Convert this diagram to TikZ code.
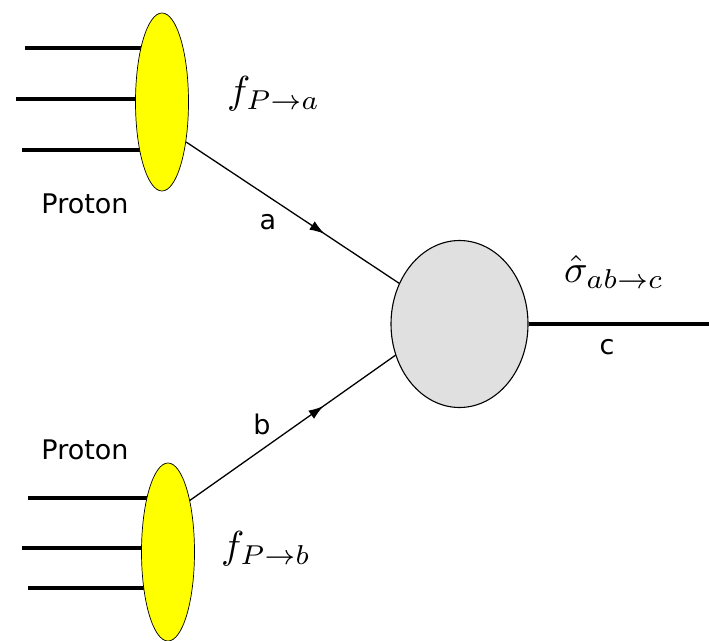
\documentclass[tikz,border=0pt]{standalone}
\usepackage{fontspec}
\setsansfont{DejaVu Sans}
\usetikzlibrary{shapes.geometric,decorations.markings,arrows.meta,backgrounds}
\definecolor{pyellow}{RGB}{255,255,0}
\definecolor{blobgray}{RGB}{224,224,224}
\newcommand{\bigmath}[1]{\scalebox{3.9}{$#1$}}
\begin{document}
\begin{tikzpicture}[x=1pt,y=-1pt,
  proton/.style={ellipse,draw=black,fill=pyellow,line width=0.7pt,minimum width=53pt,minimum height=178pt,inner sep=0pt},
  hardblob/.style={ellipse,draw=black,fill=blobgray,line width=1.1pt,minimum width=137pt,minimum height=167pt,inner sep=0pt},
  quark/.style={line width=3.2pt},
  parton/.style={line width=1.3pt,postaction={decorate},decoration={markings,mark=at position 0.65 with {\arrow{Latex[length=15pt,width=10pt]}}}},
  lbl/.style={font=\sffamily\fontsize{27}{30}\selectfont,inner sep=0pt},
  mlbl/.style={inner sep=0pt}
]
\useasboundingbox (0,0) rectangle (709,640);
\node[proton] (pa) at (162,102) {};
\node[proton] (pb) at (168,552) {};
\node[hardblob] (hard) at (459.5,324) {};
\coordinate (a1) at (25,48);
\coordinate (a2) at (16,99);
\coordinate (a3) at (22,150);
\coordinate (b1) at (28,498);
\coordinate (b2) at (22,548);
\coordinate (b3) at (28,588);
\coordinate (cend) at (709,324);
\begin{pgfonlayer}{background}
\foreach \p in {a1,a2,a3}{\draw[quark] (\p) -- (\p -| pa.center);}
\foreach \p in {b1,b2,b3}{\draw[quark] (\p) -- (\p -| pb.center);}
\end{pgfonlayer}
\draw[parton] (pa.-59) -- (hard.146.6);
\draw[parton] (pb.67) -- (hard.-154);
\draw[quark] (hard.east) -- (cend);
\node[lbl] (lpa) at (85,204) {Proton};
\node[lbl] (lpb) at (85,450) {Proton};
\node[lbl] (la) at (268,222) {a};
\node[lbl] (lb) at (262,424) {b};
\node[lbl] (lc) at (607,347) {c};
\node[mlbl,anchor=west] (fa) at (227,94) {\bigmath{f_{P\to a}}};
\node[mlbl,anchor=west] (fb) at (221,549) {\bigmath{f_{P\to b}}};
\node[mlbl,anchor=west] (sig) at (564,272) {\bigmath{\hat\sigma_{ab\to c}}};
\end{tikzpicture}
\end{document}
